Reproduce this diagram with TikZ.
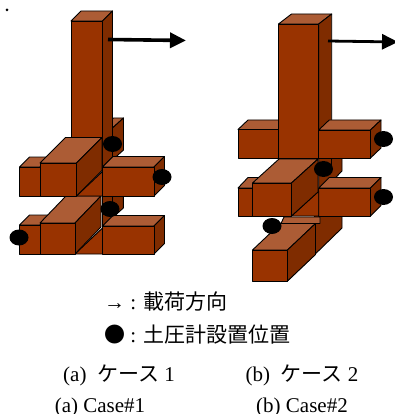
\documentclass[tikz,border=0pt]{standalone}
\usepackage{fontspec}
\setmainfont{Liberation Serif}
\newfontfamily\cjk{Noto Sans CJK JP}
\usetikzlibrary{arrows.meta,shapes.geometric}
\definecolor{cfront}{HTML}{993300}
\definecolor{ctop}{HTML}{AC5C35}
\definecolor{cside}{HTML}{7F2C00}
% x y w h dx dy
\newcommand{\brick}[6]{%
  \draw[topface] (#1,#2) -- ++(#5,-#6) -- ++(#3,0) -- ++(-#5,#6) -- cycle;
  \draw[sideface] (#1+#3,#2) -- ++(#5,-#6) -- ++(0,#4) -- ++(-#5,#6) -- cycle;
  \draw[frontface] (#1,#2) rectangle ++(#3,#4);}
\begin{document}
\begin{tikzpicture}[
  x=1pt, y=-1pt,
  font=\fontsize{21}{24}\selectfont,
  topface/.style={draw=black, fill=ctop, line width=0.9pt, line join=round},
  sideface/.style={draw=black, fill=cside, line width=0.9pt, line join=round},
  frontface/.style={draw=black, fill=cfront, line width=0.9pt, line join=round},
  sensor/.style={ellipse, fill=black, minimum width=19pt, minimum height=16pt, inner sep=0pt},
  load/.style={-{Triangle[length=16pt,width=15pt]}, line width=3.6pt},
  lbl/.style={anchor=base, inner sep=0pt},
]
  \useasboundingbox (0,0) rectangle (395,414);
  \node[circle, fill=black, minimum size=3pt, inner sep=0pt] (mark) at (7,10) {};
  % --- case 1, lower layer ---
  \draw[sideface] (112.5,196) -- (123.3,196) -- (123.3,208) -- (102.5,227) -- (102.5,196) -- cycle;
  \draw[frontface, fill=cside] (102.5,196) -- (112.5,196) -- (112.5,218);
  \brick{19.5}{225}{20.5}{29}{10}{10}
  \brick{102.5}{226}{51.5}{28}{10.5}{10.5}
  \draw[frontface] (75,254) -- (102.5,228) -- (102.5,254) -- cycle;
  \brick{40}{223}{35}{31}{26}{27}
  % --- case 1, column and upper layer ---
  \brick{102.5}{128}{10}{32}{11}{10}
  \brick{71}{21}{31.5}{146}{10}{10}
  \brick{19.5}{167}{20.5}{29}{10}{10}
  \brick{102.5}{167}{51.5}{29}{10.5}{10.5}
  \draw[frontface] (76.5,196) -- (102.5,171.5) -- (102.5,196) -- cycle;
  \brick{40}{163}{36.5}{33}{25.5}{25.5}
  \draw[black, line width=0.9pt] (102.5,167) -- (102.5,254);
  % --- case 1, sensors and load ---
  \node[sensor] (a1) at (112.5,144) {};
  \node[sensor] (a2) at (162,177) {};
  \node[sensor] (a3) at (110,209) {};
  \node[sensor] (a4) at (19,237.5) {};
  \coordinate (afrom) at (108,39.5);
  \coordinate (ato) at (186,40.5);
  \draw[load] (afrom) -- (ato);
  % --- case 2, bottom arm ---
  \draw[sideface] (315,216) -- (342,216) -- (342,228) -- (287.5,281) -- (287.5,250) -- cycle;
  \draw[topface] (284,217) -- (320,217) -- (320,223.5) -- (281,223.5) -- cycle;
  \draw[frontface, fill=cside] (315,223.5) -- (315,253);
  \brick{252.5}{250}{35}{31}{28}{26.5}
  % --- case 2, middle layer ---
  \draw[sideface] (318.7,158) -- (342,158) -- (342,171) -- (318.7,195) -- cycle;
  \draw[black, line width=0.9pt] (331.5,158) -- (331.5,171);
  \brick{238}{188}{14.5}{28}{10}{10.5}
  \brick{318.7}{188}{51.8}{28}{10.5}{10.5}
  \draw[frontface] (291.5,216) -- (318.7,191) -- (318.7,216) -- cycle;
  \brick{252.5}{183}{39}{33}{26.5}{24}
  % --- case 2, column and upper layer ---
  \brick{238}{129.5}{40.5}{28.5}{10}{9.5}
  \brick{278.5}{24}{40.2}{134}{13}{10}
  \brick{318.7}{130}{51.8}{28}{10.5}{10}
  % --- case 2, sensors and load ---
  \node[sensor] (b1) at (383.5,139) {};
  \node[sensor] (b2) at (323.5,169) {};
  \node[sensor] (b3) at (383.5,197) {};
  \node[sensor] (b4) at (272,226) {};
  \coordinate (bfrom) at (328,41);
  \coordinate (bto) at (398,42);
  \draw[load, line width=2.8pt] (bfrom) -- (bto);
  % --- legend ---
  \node[lbl, anchor=base west] (keyload) at (104,309) {→ : {\cjk 載荷方向}};
  \node[lbl, anchor=base west] (keysens) at (104,342) {{\cjk ●} : {\cjk 土圧計設置位置}};
  % --- captions ---
  \node[lbl] (capa) at (119,381) {(a) \ {\cjk ケース} 1};
  \node[lbl] (capb) at (302,381) {(b) \ {\cjk ケース} 2};
  \node[lbl] (enga) at (100,412) {(a) Case\#1};
  \node[lbl] (engb) at (302,412) {(b) Case\#2};
\end{tikzpicture}
\end{document}
